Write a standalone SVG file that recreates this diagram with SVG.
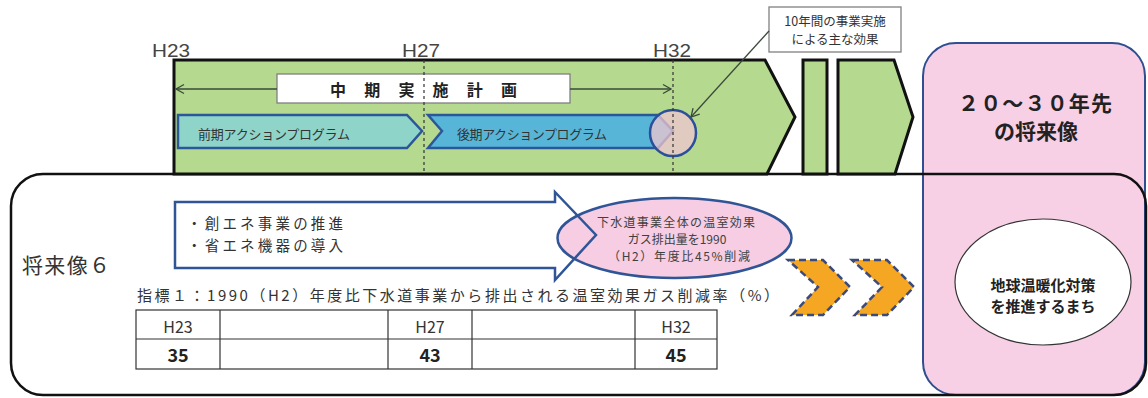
<svg xmlns="http://www.w3.org/2000/svg" width="1148" height="398" viewBox="0 0 1148 398">
<defs>
<marker id="arr" markerWidth="12" markerHeight="12" refX="10" refY="6" orient="auto" markerUnits="userSpaceOnUse">
<path d="M2,1.5 L10,6 L2,10.5" fill="none" stroke="#3a4a3a" stroke-width="1.3"/>
</marker>
</defs>
<style>
.jp{font-family:"Noto Sans CJK JP","Noto Sans",sans-serif}
.lat{font-family:"Liberation Sans","Noto Sans CJK JP",sans-serif}
.green{fill:#b4d98f;stroke:#111;stroke-width:3}
.dash{stroke:#333;stroke-width:1.2;stroke-dasharray:3 3;fill:none}
.gbox{fill:#fff;stroke:#808080;stroke-width:1.3}
.lead{stroke:#3a4a3a;stroke-width:1.3;fill:none}
.prog{stroke:#2b579a;stroke-width:2.5}
.chev{fill:#f5a623;stroke:#3b4a7a;stroke-width:2.5;stroke-dasharray:7 4}
.cell{fill:none;stroke:#333;stroke-width:1.2}
</style>
<rect width="1148" height="398" fill="#fff"/>

<g id="future-panel">
<rect x="923" y="43" width="222" height="352" rx="33" fill="#f8d0e6" stroke="#2f4f8f" stroke-width="2"/>
<text class="jp" x="1035" y="111" font-size="21" font-weight="bold" fill="#222" text-anchor="middle" textLength="154" lengthAdjust="spacing">２０〜３０年先</text>
<text class="jp" x="1036" y="139" font-size="21" font-weight="bold" fill="#222" text-anchor="middle">の将来像</text>
</g>

<g id="vision-frame">
<rect x="11" y="174" width="1135" height="221" rx="32" fill="none" stroke="#111" stroke-width="2.5"/>
<text class="jp" x="22" y="273" font-size="21" fill="#333" textLength="88" lengthAdjust="spacing">将来像６</text>
</g>

<g id="timeline">
<polygon class="green" points="174,60 765,60 795,117 767,174 174,174"/>
<rect class="green" x="803" y="60" width="24" height="114"/>
<polygon class="green" points="838,60 894,60 913,117 895,174 838,174"/>
<text class="lat" x="152" y="57" font-size="18" fill="#444" textLength="38" lengthAdjust="spacingAndGlyphs">H23</text>
<text class="lat" x="402" y="57" font-size="18" fill="#444" textLength="38" lengthAdjust="spacingAndGlyphs">H27</text>
<text class="lat" x="653" y="57" font-size="18" fill="#444" textLength="38" lengthAdjust="spacingAndGlyphs">H32</text>
</g>

<g id="mid-plan">
<rect class="gbox" x="277" y="74" width="293" height="29"/>
<text class="jp" x="330" y="96" font-size="16" font-weight="bold" fill="#222" textLength="187" lengthAdjust="spacing">中期実施計画</text>
</g>

<g id="early-program">
<polygon class="prog" fill="#8fd4c9" points="178,115 407,115 422,131 407,148 178,148"/>
<text class="jp" x="198" y="139" font-size="13" fill="#333" textLength="152" lengthAdjust="spacing">前期アクションプログラム</text>
</g>

<g id="late-program">
<polygon class="prog" fill="#57b6d8" points="428,115 658,115 673,131 658,148 428,148 442,131"/>
<text class="jp" x="457" y="139" font-size="13" fill="#333" textLength="150" lengthAdjust="spacing">後期アクションプログラム</text>
</g>

<g id="effect-circle">
<circle cx="673" cy="133" r="23" fill="#f0c4cf" fill-opacity="0.75" stroke="#2b4f9a" stroke-width="2.5"/>
</g>

<g id="effect-callout">
<rect class="gbox" x="769" y="7" width="132" height="45"/>
<text class="jp" x="835" y="26" font-size="12.5" fill="#333" text-anchor="middle">10年間の事業実施</text>
<text class="jp" x="835" y="44" font-size="12.5" fill="#333" text-anchor="middle">による主な効果</text>
</g>

<g id="target-ellipse">
<ellipse cx="674.5" cy="238" rx="117" ry="40" fill="#f6cde2" stroke="#2f5597" stroke-width="2.5"/>
<text class="jp" x="676" y="227" font-size="12" fill="#404040" text-anchor="middle" textLength="158" lengthAdjust="spacing">下水道事業全体の温室効果</text>
<text class="jp" x="677" y="244" font-size="12" fill="#404040" text-anchor="middle">ガス排出量を1990</text>
<text class="jp" x="679" y="261" font-size="12" fill="#404040" text-anchor="middle" textLength="142" lengthAdjust="spacing">（H2）年度比45%削減</text>
</g>

<g id="measures-arrow">
<path d="M175,202 H555 V192 L596,235 L555,280 V268 H175 Z" fill="none" stroke="#2f5597" stroke-width="2.5"/>
<text class="jp" x="187" y="229" font-size="14.5" fill="#333" textLength="156" lengthAdjust="spacing">・創エネ事業の推進</text>
<text class="jp" x="187" y="251" font-size="14.5" fill="#333" textLength="156" lengthAdjust="spacing">・省エネ機器の導入</text>
</g>

<g id="chevrons">
<polygon class="chev" points="788,260 823,260 850,287 823,315 792,315 818,287"/>
<polygon class="chev" points="852,260 887,260 914,287 887,315 855,315 882,287"/>
</g>

<g id="goal-ellipse">
<ellipse cx="1043" cy="282" rx="88" ry="63" fill="#fff" stroke="#333" stroke-width="1.2"/>
<text class="jp" x="1043" y="291" font-size="15" font-weight="bold" fill="#222" text-anchor="middle">地球温暖化対策</text>
<text class="jp" x="1043" y="312" font-size="15" font-weight="bold" fill="#222" text-anchor="middle">を推進するまち</text>
</g>

<g id="indicator-table">
<text class="jp" x="137" y="301" font-size="15" fill="#333" textLength="642" lengthAdjust="spacing">指標１：1990（H2）年度比下水道事業から排出される温室効果ガス削減率（%）</text>
<rect class="cell" x="136" y="310" width="581" height="59"/>
<line class="cell" x1="136" y1="339" x2="717" y2="339"/>
<line class="cell" x1="220" y1="310" x2="220" y2="369"/>
<line class="cell" x1="388" y1="310" x2="388" y2="369"/>
<line class="cell" x1="472" y1="310" x2="472" y2="369"/>
<line class="cell" x1="635" y1="310" x2="635" y2="369"/>
<text class="jp" x="178" y="333" font-size="16" fill="#333" text-anchor="middle">H23</text>
<text class="jp" x="430" y="333" font-size="16" fill="#333" text-anchor="middle">H27</text>
<text class="jp" x="676" y="333" font-size="16" fill="#333" text-anchor="middle">H32</text>
<text class="jp" x="178" y="362" font-size="18" font-weight="bold" fill="#222" text-anchor="middle">35</text>
<text class="jp" x="430" y="362" font-size="18" font-weight="bold" fill="#222" text-anchor="middle">43</text>
<text class="jp" x="676" y="362" font-size="18" font-weight="bold" fill="#222" text-anchor="middle">45</text>
</g>

<g id="connectors">
<line class="lead" x1="277" y1="89" x2="176" y2="89" marker-end="url(#arr)"/>
<line class="lead" x1="570" y1="89" x2="671" y2="89" marker-end="url(#arr)"/>
<line class="lead" x1="769" y1="31" x2="691" y2="117" marker-end="url(#arr)"/>
<line class="dash" x1="424" y1="60" x2="424" y2="174"/>
<line class="dash" x1="673" y1="60" x2="673" y2="174"/>
</g>
</svg>
